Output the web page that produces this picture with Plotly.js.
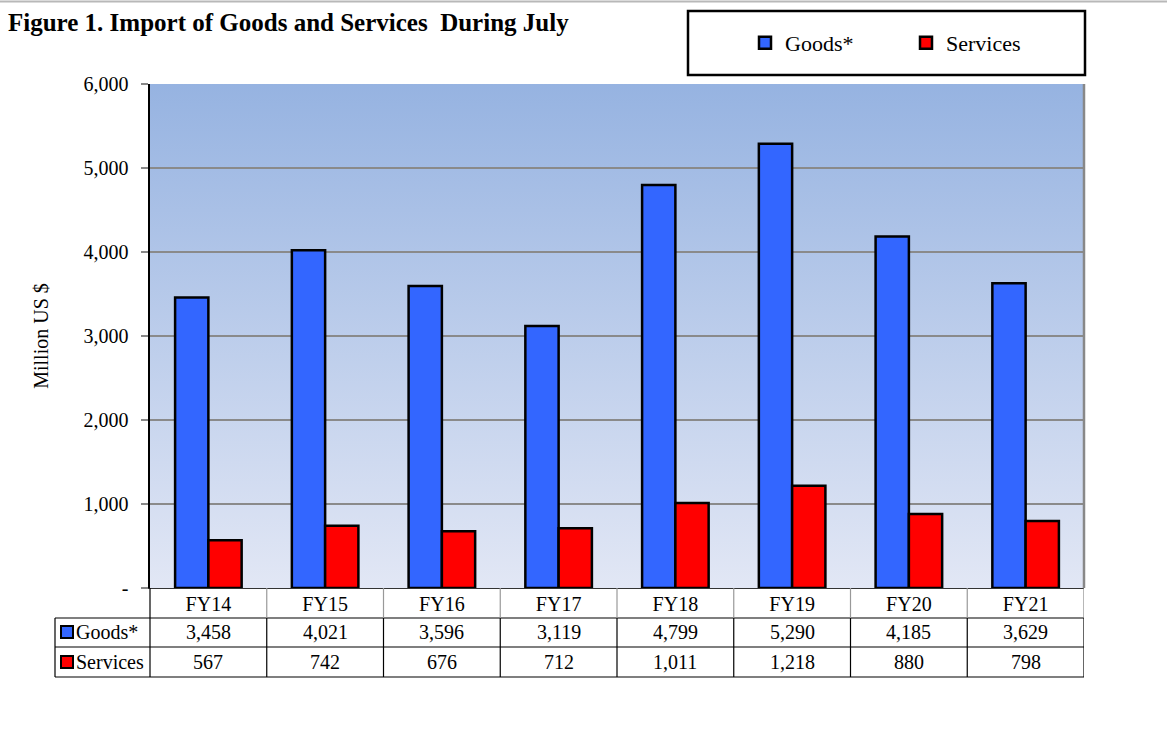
<!DOCTYPE html>
<html>
<head>
<meta charset="utf-8">
<script src="https://cdn.plot.ly/plotly-3.0.1.min.js"></script>
<style>html,body{margin:0;padding:0;background:#fff;}#chart{width:1167px;height:741px;}</style>
</head>
<body>
<div id="chart"></div>
<script>
// ---- data ----
var categories = ["FY14","FY15","FY16","FY17","FY18","FY19","FY20","FY21"];
var goods = [3458, 4021, 3596, 3119, 4799, 5290, 4185, 3629];
var services = [567, 742, 676, 712, 1011, 1218, 880, 798];
var seriesNames = ["Goods*", "Services"];
var yTickVals = [0, 1000, 2000, 3000, 4000, 5000, 6000];
var yTickText = ["-", "1,000", "2,000", "3,000", "4,000", "5,000", "6,000"];

// ---- layout helpers (pixel -> paper) ----
var L = 150, R = 1084, T = 84, B = 588;
var W = R - L, H = B - T;
function px(x){ return (x - L) / W; }
function py(y){ return (B - y) / H; }
function fmt(v){ return v.toLocaleString('en-US'); }

var FONT = "Liberation Serif, Times New Roman, serif";
var blue = "#3366FF", red = "#FF0000";

var traces = [
  {type:'bar', name:seriesNames[0], x:categories, y:goods,
   marker:{color:blue, line:{color:'#000', width:2.5}}, hoverinfo:'x+y'},
  {type:'bar', name:seriesNames[1], x:categories, y:services,
   marker:{color:red, line:{color:'#000', width:2.5}}, hoverinfo:'x+y'}
];

var shapes = [];
var annotations = [];

// top gray page line
shapes.push({type:'line', xref:'paper', yref:'paper', x0:px(0), x1:px(1167), y0:py(1.5), y1:py(1.5), line:{color:'#b8b8b8', width:2}});
// legend box
shapes.push({type:'rect', xref:'paper', yref:'paper', x0:px(688), x1:px(1085), y0:py(11), y1:py(75), line:{color:'#000', width:2.5}, fillcolor:'rgba(0,0,0,0)'});
// plot right border
shapes.push({type:'line', xref:'paper', yref:'paper', x0:1, x1:1, y0:0, y1:1, line:{color:'#888', width:2.5}});

// table lines
var rowTop = 588, r1 = 618, r2 = 647, r3 = 677;
[r1, r2, r3].forEach(function(y){
  shapes.push({type:'line', xref:'paper', yref:'paper', x0:px(55), x1:px(1084), y0:py(y), y1:py(y), line:{color:'#000', width:1.2}});
});
shapes.push({type:'line', xref:'paper', yref:'paper', x0:px(55), x1:px(55), y0:py(r1), y1:py(r3), line:{color:'#000', width:1.2}});
shapes.push({type:'line', xref:'paper', yref:'paper', x0:0, x1:0, y0:py(rowTop), y1:py(r3), line:{color:'#000', width:1.2}});
for (var i = 0; i < categories.length; i++) {
  var xb = i + 0.5;
  var col = (i === categories.length - 1) ? '#888' : '#999';
  shapes.push({type:'line', xref:'x', yref:'paper', x0:xb, x1:xb, y0:py(rowTop), y1:py(r1), line:{color:col, width:1.2}});
  shapes.push({type:'line', xref:'x', yref:'paper', x0:xb, x1:xb, y0:py(r1), y1:py(r3), line:{color:'#000', width:1.2}});
}
// row label squares
shapes.push({type:'rect', xref:'paper', yref:'paper', x0:px(61), x1:px(73), y0:py(626), y1:py(638), fillcolor:blue, line:{color:'#000', width:2}});
shapes.push({type:'rect', xref:'paper', yref:'paper', x0:px(61), x1:px(73), y0:py(656), y1:py(668), fillcolor:red, line:{color:'#000', width:2}});

// row labels
annotations.push({xref:'paper', yref:'paper', x:px(74), y:py(632), xanchor:'left', yanchor:'middle', text:seriesNames[0], showarrow:false, font:{family:FONT, size:20, color:'#000'}});
annotations.push({xref:'paper', yref:'paper', x:px(74), y:py(662), xanchor:'left', yanchor:'middle', text:seriesNames[1], showarrow:false, font:{family:FONT, size:20, color:'#000'}});
// table values
for (var j = 0; j < categories.length; j++) {
  annotations.push({xref:'x', yref:'paper', x:categories[j], y:py(632), xanchor:'center', yanchor:'middle', text:fmt(goods[j]), showarrow:false, font:{family:FONT, size:20, color:'#000'}});
  annotations.push({xref:'x', yref:'paper', x:categories[j], y:py(662), xanchor:'center', yanchor:'middle', text:fmt(services[j]), showarrow:false, font:{family:FONT, size:20, color:'#000'}});
}

var svg = '<svg xmlns="http://www.w3.org/2000/svg" width="10" height="100" viewBox="0 0 10 100" preserveAspectRatio="none">' +
  '<defs><linearGradient id="g" x1="0" y1="0" x2="0" y2="1">' +
  '<stop offset="0" stop-color="#96B3E1"/><stop offset="1" stop-color="#E2E7F5"/></linearGradient></defs>' +
  '<rect width="10" height="100" fill="url(#g)"/></svg>';

var layout = {
  width:1167, height:741,
  margin:{l:L, r:1167-R, t:T, b:741-B, pad:0},
  paper_bgcolor:'#fff', plot_bgcolor:'rgba(0,0,0,0)',
  font:{family:FONT, color:'#000'},
  title:{text:'<b>Figure 1. Import of Goods and Services&nbsp; During July</b>', xref:'container', yref:'container', x:8/1167, xanchor:'left', y:1-22/741, yanchor:'middle', font:{family:FONT, size:25, color:'#000'}},
  barmode:'group', bargap:0.43, bargroupgap:0,
  showlegend:true,
  legend:{orientation:'h', x:px(745), xanchor:'left', y:py(43), yanchor:'middle', bgcolor:'rgba(0,0,0,0)', borderwidth:0, font:{family:FONT, size:22, color:'#000'}, entrywidth:116, entrywidthmode:'pixels', traceorder:'normal'},
  xaxis:{type:'category', range:[-0.5, categories.length-0.5], showgrid:false, zeroline:false, showline:true, linecolor:'#333', linewidth:1.2, ticks:'', ticklabelstandoff:-2, tickfont:{family:FONT, size:20, color:'#000'}, fixedrange:true},
  yaxis:{range:[0,6000], tickvals:yTickVals, ticktext:yTickText, showgrid:true, gridcolor:'#8a8a8a', gridwidth:2, zeroline:false, showline:true, linecolor:'#000', linewidth:2.5, ticks:'outside', ticklen:7, tickwidth:2, tickcolor:'#888', ticklabelstandoff:8, tickfont:{family:FONT, size:20, color:'#000'}, title:{text:'Million US $', standoff:30, font:{family:FONT, size:20, color:'#000'}}, fixedrange:true},
  images:[{source:'data:image/svg+xml;charset=utf-8,' + encodeURIComponent(svg), xref:'paper', yref:'paper', x:0, y:1, sizex:1, sizey:1, xanchor:'left', yanchor:'top', sizing:'stretch', layer:'below'}],
  shapes:shapes,
  annotations:annotations
};

Plotly.newPlot('chart', traces, layout, {displayModeBar:false, staticPlot:true});
</script>
</body>
</html>
